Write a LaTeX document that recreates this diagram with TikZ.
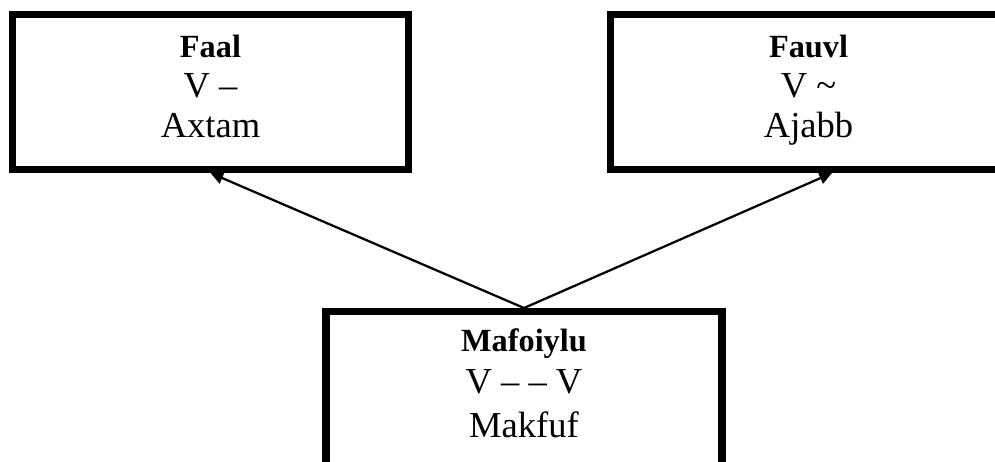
\documentclass[tikz,border=0pt]{standalone}
\usepackage{fontspec}
\setmainfont{Liberation Serif}
\usetikzlibrary{positioning, arrows.meta}

\begin{document}
\begin{tikzpicture}[
    metre/.style={draw, rectangle, line width=5pt, minimum width=9.9cm,
      minimum height=3.875cm, align=center,
      font=\fontsize{26}{28.5}\selectfont},
    link/.style={line width=1.6pt, -{Triangle[length=9pt, width=8.5pt]}}
  ]
      \clip (0,0) rectangle (24.875,11.55);
      \node[metre] at (5.2625,9.25)
        (A) {{\fontsize{23}{28.5}\selectfont\bfseries Faal}\\ V --\\ Axtam\strut};
      \node[metre, right=4.875cm of A]
        (F) {{\fontsize{23}{28.5}\selectfont\bfseries Fauvl}\\ V \textasciitilde\\ Ajabb\strut};
      \node[metre, below=3.375cm of A, xshift=7.8375cm]
        (M) {{\fontsize{23}{28.5}\selectfont\bfseries Mafoiylu}\\[1.5pt] V -- -- V\\[3pt] Makfuf\strut};
      \coordinate (Ftip) at ([xshift=0.5875cm]F.south);
      \draw[link] (M.north) -- (A.south);
      \draw[link] (M.north) -- (Ftip);
    \end{tikzpicture}
\end{document}
